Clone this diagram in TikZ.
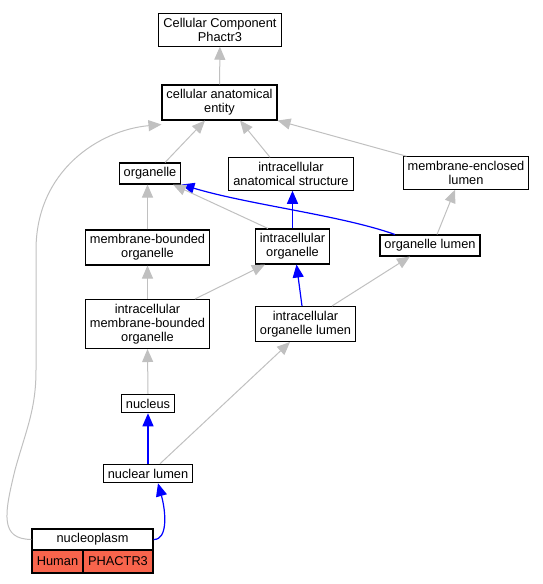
\documentclass[tikz,border=0pt]{standalone}
\usepackage{fontspec}
\setmainfont{Liberation Sans}
\usepackage{tikz}
\usetikzlibrary{arrows.meta, positioning}
\definecolor{edgegray}{RGB}{192,192,192}
\definecolor{taxon}{RGB}{248,100,76}
\tikzset{
  term/.style = {draw=black, line width=1.1pt, align=center, inner xsep=4.5pt,
    inner ysep=4.5pt, fill=white, font=\fontsize{12.8}{14}\selectfont},
  cell/.style = {term, inner sep=0pt, minimum height=23pt},
  isa/.style = {->, draw=edgegray, line width=1pt},
  partof/.style = {->, draw=blue, line width=1.2pt}
}
\begin{document}
\begin{tikzpicture}[x=1pt, y=-1pt, >={Triangle[length=13pt,width=11pt]}]
\useasboundingbox (0,0) rectangle (543,584);
% terms
\node [term] (ccp) at (220,30) {Cellular Component\\Phactr3};
\node [term] (cae) at (219.5,102.5) {cellular anatomical\\entity};
\node [term] (org) at (150,173.5) {organelle};
\node [term] (ias) at (291,174) {intracellular\\anatomical structure};
\node [term] (mel) at (466,173) {membrane-enclosed\\lumen};
\node [term] (mbo) at (147.5,247.5) {membrane-bounded\\organelle};
\node [term] (io) at (292.5,246.5) {intracellular\\organelle};
\node [term] (ol) at (430,245.5) {organelle lumen};
\node [term] (imbo) at (147.5,324) {intracellular\\membrane-bounded\\organelle};
\node [term] (iol) at (305.5,324) {intracellular\\organelle lumen};
\node [term] (nuc) at (148,403.5) {nucleus};
\node [term] (nl) at (148,473.5) {nuclear lumen};
% nucleoplasm with its gene row
\node [cell, minimum width=121pt, minimum height=21pt] (np) at (92.5,539.5) {nucleoplasm};
\node [cell, fill=taxon, minimum width=51pt] (human) at (57.5,561.5) {Human};
\node [cell, fill=taxon, minimum width=70pt] (gene) at (118,561.5) {PHACTR3};
% is_a edges
\draw [isa] (cae) -- (ccp);
\draw [isa] ([xshift=15pt]org.north) -- ([xshift=-14.5pt]cae.south);
\draw [isa] ([xshift=-21pt]ias.north) -- ([xshift=20.5pt]cae.south);
\draw [isa] ([xshift=4pt]mel.north west) -- (cae.south east);
\draw [isa] (np.west) .. controls (0,539) and (4,515) .. (15,470)
  .. controls (26,430) and (36,410) .. (36,370) -- (36,250)
  .. controls (36,170) and (100,130) .. ([yshift=-4pt]cae.south west);
\draw [isa] (mbo.north) -- (mbo.north |- org.south);
\draw [partof] ([xshift=-35pt]ol.north) .. controls (340,215) and (250,205) .. (org.south east);
\draw [isa] ([xshift=-24.5pt]io.north) -- ([xshift=23pt]org.south);
\draw [partof] (io.north) -- (io.north |- ias.south);
\draw [isa] ([xshift=7pt]ol.north) -- ([xshift=-11pt]mel.south);
\draw [isa] (imbo.north) -- (mbo.south);
\draw [isa] ([xshift=47.5pt]imbo.north) -- ([xshift=-27.5pt]io.south);
\draw [partof] ([xshift=-3.5pt]iol.north) -- ([xshift=4pt]io.south);
\draw [isa] ([xshift=26.5pt]iol.north) -- ([xshift=-20pt]ol.south);
\draw [isa] (nuc.north) -- (imbo.south);
\draw [isa] ([xshift=12pt]nl.north) -- ([xshift=-15.5pt]iol.south);
\draw [partof] (nl.north) -- (nuc.south);
\draw [partof] (np.east) .. controls (168,540) and (166,512) .. ([xshift=10pt]nl.south);
\end{tikzpicture}
\end{document}
